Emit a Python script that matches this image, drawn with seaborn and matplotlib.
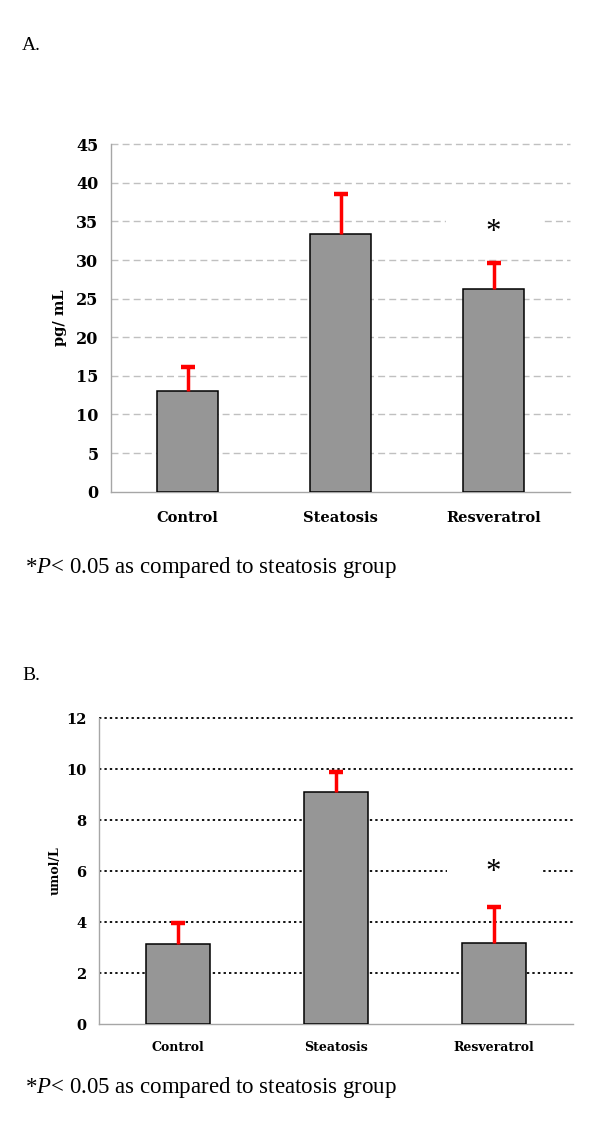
import matplotlib
matplotlib.use("Agg")
import matplotlib.pyplot as plt
import seaborn as sns
import pandas as pd
import numpy as np

# ---- data ----
categories = ["Control", "Steatosis", "Resveratrol"]
a_means = [13.0, 33.4, 26.2]
a_errs = [3.2, 5.1, 3.4]
b_means = [3.14, 9.1, 3.19]
b_errs = [0.83, 0.77, 1.39]
a_yticks = [0, 5, 10, 15, 20, 25, 30, 35, 40, 45]
b_yticks = [0, 2, 4, 6, 8, 10, 12]
a_star_y = 33.6
b_star_y = 5.95
footnote = r"*$\mathit{P}$< 0.05 as compared to steatosis group"

sns.set_style("white")
plt.rcParams["font.family"] = ["DejaVu Serif"]
plt.rcParams["text.color"] = "black"
plt.rcParams["axes.labelcolor"] = "black"
plt.rcParams["xtick.color"] = "black"
plt.rcParams["ytick.color"] = "black"
plt.rcParams["mathtext.fontset"] = "custom"
plt.rcParams["mathtext.rm"] = "Liberation Serif"
plt.rcParams["mathtext.it"] = "Liberation Serif:italic"

fig = plt.figure(figsize=(6, 11.3), dpi=100)
axA = fig.add_axes([0.185, 0.5649, 0.765, 0.3074])
axB = fig.add_axes([0.165, 0.0938, 0.79, 0.2708])

BAR = "#969696"
RED = "#ff0000"
SPINE = "#a6a6a6"


def panel(ax, means, errs, yticks, ylabel, star_y, grid_kw, tick_fs, xl_fs, yl_fs, ylab_x, xpad):
    df = pd.DataFrame({"group": categories, "value": means})
    sns.barplot(data=df, x="group", y="value", ax=ax, color=BAR, width=0.405,
                edgecolor="black", linewidth=1.1, saturation=1, zorder=3)
    x = np.arange(len(categories))
    top = np.array(means) + np.array(errs)
    ax.errorbar(x, means, yerr=[np.zeros(len(errs)), errs], fmt="none",
                ecolor=RED, elinewidth=2.5, capsize=0, zorder=4)
    ax.scatter(x, top, marker="_", s=95, linewidths=3.2, color=RED, zorder=5)
    ax.set_ylim(yticks[0], yticks[-1])
    ax.set_xlim(-0.5, len(categories) - 0.5)
    ax.set_yticks(yticks)
    ax.set_yticklabels([str(t) for t in yticks], fontsize=tick_fs, fontweight="bold",
                       color="black")
    ax.set_xticks(x)
    ax.set_xticklabels(categories, fontsize=xl_fs, fontweight="bold", color="black")
    ax.set_xticks(np.arange(-0.5, len(categories)), minor=True)
    ax.tick_params(axis="x", which="major", length=0, pad=xpad)
    ax.tick_params(axis="x", which="minor", length=4, color=SPINE, width=1, direction="out")
    ax.tick_params(axis="y", length=4, color=SPINE, width=1, pad=5, direction="out")
    ax.set_xlabel("")
    ax.set_ylabel(ylabel, fontsize=yl_fs, fontweight="bold", color="black")
    ax.yaxis.set_label_coords(ylab_x, 0.5)
    for s in ["top", "right"]:
        ax.spines[s].set_visible(False)
    for s in ["left", "bottom"]:
        ax.spines[s].set_color(SPINE)
        ax.spines[s].set_linewidth(1.0)
    ax.yaxis.grid(True, zorder=0, **grid_kw)
    ax.xaxis.grid(False)
    ax.set_axisbelow(True)
    glines = ax.get_ygridlines()
    for gl in glines:
        gl.set_clip_on(False)
    glines[0].set_visible(False)
    ax.text(2, star_y, "     *     ", ha="center", va="center",
            fontsize=22, family="Liberation Serif", color="black", zorder=6,
            bbox=dict(facecolor="white", edgecolor="none", pad=1))


panel(axA, a_means, a_errs, a_yticks, "pg/ mL", a_star_y,
      dict(color="#c0c0c0", linestyle=(0, (5, 3)), linewidth=1.0),
      11.5, 10.5, 10.5, -0.096, 14)
panel(axB, b_means, b_errs, b_yticks, "umol/L", b_star_y,
      dict(color="black", linestyle=(0, (1.3, 1.7)), linewidth=1.3),
      10.5, 9, 9, -0.078, 12)

fig.text(22 / 600, 1 - 45 / 1130, "A.", fontsize=14, family="Liberation Serif",
         ha="left", va="center")
fig.text(22 / 600, 1 - 675 / 1130, "B.", fontsize=14, family="Liberation Serif",
         ha="left", va="center")
fig.text(25 / 600, 1 - 567 / 1130, footnote, fontsize=16.5, family="Liberation Serif",
         ha="left", va="center")
fig.text(25 / 600, 1 - 1087 / 1130, footnote, fontsize=16.5, family="Liberation Serif",
         ha="left", va="center")

fig.savefig("out.png", dpi=100)
